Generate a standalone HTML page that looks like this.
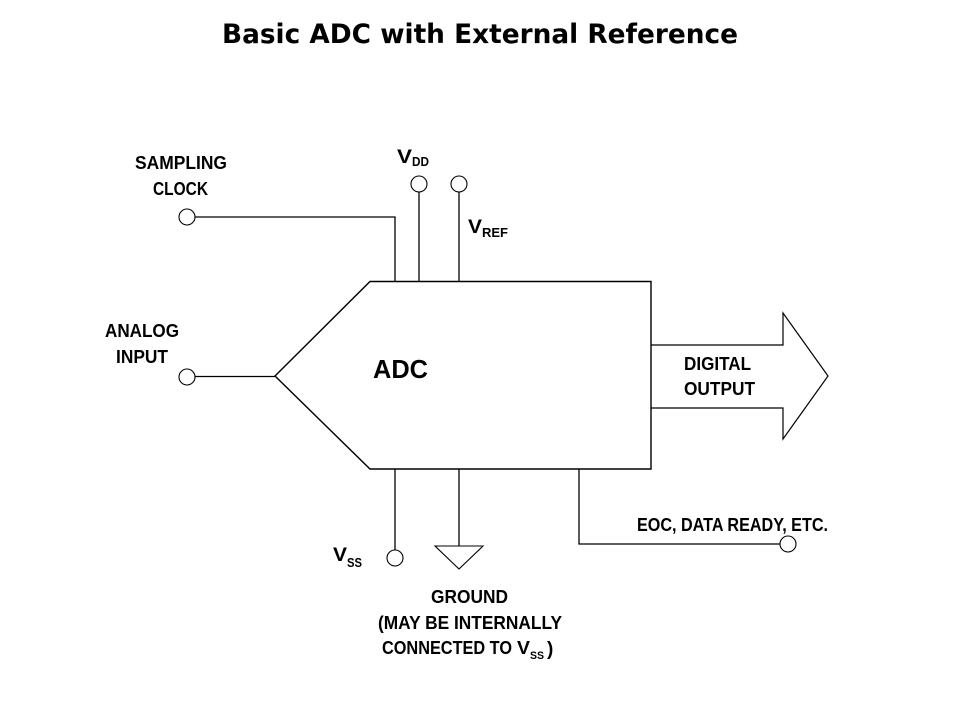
<!DOCTYPE html>
<html>
<head>
<meta charset="utf-8">
<style>
html,body{margin:0;padding:0;background:#fff;}
svg{display:block;}
text{font-family:"Liberation Sans",Arial,sans-serif;font-weight:bold;fill:#000;}
.t{font-family:"DejaVu Sans","Liberation Sans",sans-serif;}
</style>
</head>
<body>
<svg width="960" height="720" viewBox="0 0 960 720" xmlns="http://www.w3.org/2000/svg">
<rect width="960" height="720" fill="#fff"/>
<text class="t" x="222" y="43" font-size="26.5" textLength="516" lengthAdjust="spacingAndGlyphs">Basic ADC with External Reference</text>

<g fill="none" stroke="#000" stroke-width="1.3">
  <!-- ADC body -->
  <polygon points="370,281.5 651,281.5 651,469 370,469 275,376" stroke-width="1.4"/>
  <!-- digital output arrow -->
  <polyline points="651,345 783,345 783,313 828,376 783,439 783,408 651,408" stroke-width="1.2"/>
  <!-- sampling clock -->
  <circle cx="187" cy="217" r="8" fill="#fff" stroke-width="1.1"/>
  <polyline points="195,217 395,217 395,282"/>
  <!-- VDD -->
  <circle cx="419" cy="184" r="8" fill="#fff" stroke-width="1.1"/>
  <line x1="419" y1="192" x2="419" y2="282"/>
  <!-- VREF -->
  <circle cx="459" cy="184" r="8" fill="#fff" stroke-width="1.1"/>
  <line x1="459" y1="192" x2="459" y2="282"/>
  <!-- analog input -->
  <circle cx="187" cy="377" r="8" fill="#fff" stroke-width="1.1"/>
  <line x1="195" y1="376.5" x2="275" y2="376.5"/>
  <!-- VSS -->
  <line x1="395" y1="469" x2="395" y2="550"/>
  <circle cx="395" cy="558" r="8" fill="#fff" stroke-width="1.1"/>
  <!-- ground -->
  <line x1="459" y1="469" x2="459" y2="546"/>
  <polygon points="435,546 483,546 459,569" stroke-width="1.1"/>
  <!-- EOC -->
  <polyline points="579,469 579,544 780,544"/>
  <circle cx="788" cy="544" r="8" fill="#fff" stroke-width="1.1"/>
</g>

<text x="135" y="169" font-size="18" textLength="92" lengthAdjust="spacingAndGlyphs">SAMPLING</text>
<text x="153" y="195" font-size="18" textLength="55" lengthAdjust="spacingAndGlyphs">CLOCK</text>

<text x="397" y="163" font-size="19" textLength="15" lengthAdjust="spacingAndGlyphs">V</text>
<text x="412" y="166" font-size="13" textLength="17" lengthAdjust="spacingAndGlyphs">DD</text>

<text x="468" y="233" font-size="19" textLength="14" lengthAdjust="spacingAndGlyphs">V</text>
<text x="482" y="237" font-size="13" textLength="26" lengthAdjust="spacingAndGlyphs">REF</text>

<text x="105" y="337" font-size="18" textLength="74" lengthAdjust="spacingAndGlyphs">ANALOG</text>
<text x="116" y="363" font-size="18" textLength="52" lengthAdjust="spacingAndGlyphs">INPUT</text>

<text x="373" y="378" font-size="26" textLength="55" lengthAdjust="spacingAndGlyphs">ADC</text>

<text x="684" y="370" font-size="18" textLength="67" lengthAdjust="spacingAndGlyphs">DIGITAL</text>
<text x="684" y="395" font-size="18" textLength="71" lengthAdjust="spacingAndGlyphs">OUTPUT</text>

<text x="637" y="531" font-size="18" textLength="191" lengthAdjust="spacingAndGlyphs">EOC, DATA READY, ETC.</text>

<text x="333" y="561" font-size="19" textLength="14" lengthAdjust="spacingAndGlyphs">V</text>
<text x="347" y="567" font-size="13" textLength="15" lengthAdjust="spacingAndGlyphs">SS</text>

<text x="431" y="603" font-size="18" textLength="77" lengthAdjust="spacingAndGlyphs">GROUND</text>
<text x="378" y="629" font-size="18" textLength="184" lengthAdjust="spacingAndGlyphs">(MAY BE INTERNALLY</text>
<text x="382" y="654" font-size="18" textLength="130" lengthAdjust="spacingAndGlyphs">CONNECTED TO</text>
<text x="517" y="654" font-size="18" textLength="13" lengthAdjust="spacingAndGlyphs">V</text>
<text x="530" y="659" font-size="11" textLength="14" lengthAdjust="spacingAndGlyphs">SS</text>
<text x="547" y="655" font-size="19">)</text>
</svg>
</body>
</html>
